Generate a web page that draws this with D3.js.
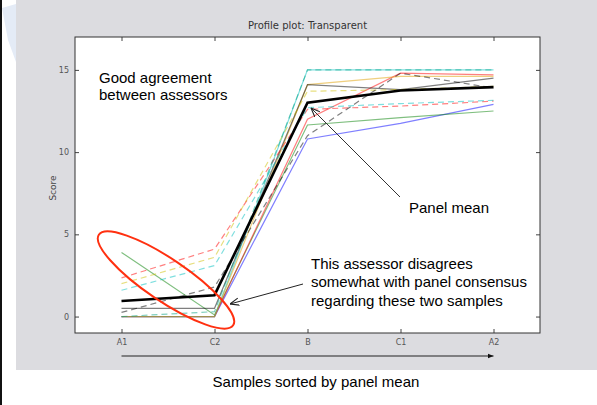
<!DOCTYPE html>
<html>
<head>
<meta charset="utf-8">
<script src="https://cdn.jsdelivr.net/npm/d3@7"></script>
<style>
  html, body { margin: 0; padding: 0; background: #ffffff; }
  svg { display: block; }
</style>
</head>
<body>
<svg id="chart" width="597" height="405"></svg>
<script>
// Samples in order of increasing panel mean
const samples = ["A1", "C2", "B", "C1", "A2"];
const yTicks = [0, 5, 10, 15];

// Individual assessor scores for attribute "Transparent" (A1, C2, B, C1, A2)
const assessorBlue    = [0.0, 0.0, 10.8, 11.75, 12.9];
const assessorGreen   = [3.9, 0.1, 11.65, 12.1, 12.5];
const assessorRed     = [0.0, 0.0, 12.0, 14.8, 14.7];
const assessorCyan    = [0.0, 0.0, 15.0, 15.0, 15.0];
const assessorYellow  = [0.0, 0.0, 14.1, 14.6, 14.6];
const assessorGrey    = [0.5, 0.5, 14.1, 13.8, 14.5];
const assessorRedD    = [2.35, 4.1, 12.6, 12.8, 13.1];
const assessorYellowD = [2.0, 3.6, 13.7, 13.8, 14.0];
const assessorCyanD   = [1.6, 3.1, 12.7, 12.95, 13.15];
const assessorGreyD   = [0.25, 1.8, 11.0, 14.8, 13.9];
const assessorGreenD  = [0.0, 0.3, 15.0, 15.0, 15.0];

// Panel mean
const panelMean = [0.95, 1.3, 13.0, 13.75, 13.95];

const assessors = [
  assessorBlue, assessorGreen, assessorRed, assessorCyan, assessorYellow, assessorGrey,
  assessorRedD, assessorYellowD, assessorCyanD, assessorGreyD, assessorGreenD
];
// Line styles, one per assessor
const lineStyles = [
  { color: "#0000ff", dash: null },
  { color: "#008000", dash: null },
  { color: "#ff0000", dash: null },
  { color: "#00bfbf", dash: null },
  { color: "#e0a000", dash: null },
  { color: "#000000", dash: null },
  { color: "#ff0000", dash: "6,4" },
  { color: "#d0c000", dash: "6,4" },
  { color: "#00bfbf", dash: "6,4" },
  { color: "#000000", dash: "6,4" },
  { color: "#00a080", dash: "6,4" }
];

const svg = d3.select("#chart");

// Slide background: white page, thin dark edge, faint logo mark, grey figure panel
svg.append("rect").attr("x", 0).attr("y", 0).attr("width", 597).attr("height", 405).attr("fill", "#ffffff");
svg.append("path").attr("d", "M2,8 L16,4 L16,62 L8,40 Z").attr("fill", "#e4ebf6");
svg.append("rect").attr("x", 16).attr("y", 0).attr("width", 581).attr("height", 370).attr("fill", "#dcdce0");
svg.append("rect").attr("x", 0).attr("y", 0).attr("width", 2).attr("height", 405).attr("fill", "#111");

const plot = { left: 75, right: 540, top: 37, bottom: 333 };

const x = d3.scalePoint().domain(samples).range([plot.left, plot.right]).padding(0.5);
const y = d3.scaleLinear().domain([-1, 17]).range([plot.bottom, plot.top]);

svg.append("rect")
  .attr("x", plot.left).attr("y", plot.top)
  .attr("width", plot.right - plot.left).attr("height", plot.bottom - plot.top)
  .attr("fill", "#ffffff");

// Title
svg.append("text")
  .attr("x", (plot.left + plot.right) / 2).attr("y", 29)
  .attr("text-anchor", "middle")
  .attr("font-family", "DejaVu Sans").attr("font-size", 10)
  .attr("fill", "#333")
  .text("Profile plot: Transparent");

// Profile lines
const line = d3.line().x((d, i) => x(samples[i])).y(d => y(d));
const g = svg.append("g");
assessors.forEach((vals, i) => {
  g.append("path")
    .datum(vals)
    .attr("d", line)
    .attr("fill", "none")
    .attr("stroke", lineStyles[i].color)
    .attr("stroke-opacity", 0.5)
    .attr("stroke-width", 1.2)
    .attr("stroke-dasharray", lineStyles[i].dash);
});
g.append("path")
  .datum(panelMean)
  .attr("d", line)
  .attr("fill", "none")
  .attr("stroke", "#000")
  .attr("stroke-width", 2.6);

// Axes with inward ticks on all four sides
function styleAxis(sel) {
  sel.select(".domain").remove();
  sel.selectAll(".tick line").attr("stroke", "#444");
  sel.selectAll(".tick text")
    .attr("font-family", "DejaVu Sans").attr("font-size", 8).attr("fill", "#555");
}
svg.append("g").attr("transform", `translate(${plot.left},0)`)
  .call(d3.axisLeft(y).tickValues(yTicks).tickSize(-4).tickPadding(6)).call(styleAxis);
svg.append("g").attr("transform", `translate(${plot.right},0)`)
  .call(d3.axisRight(y).tickValues(yTicks).tickSize(-4).tickFormat("")).call(styleAxis);
svg.append("g").attr("transform", `translate(0,${plot.bottom})`)
  .call(d3.axisBottom(x).tickSize(-4).tickPadding(6)).call(styleAxis);
svg.append("g").attr("transform", `translate(0,${plot.top})`)
  .call(d3.axisTop(x).tickSize(-4).tickFormat("")).call(styleAxis);

svg.append("rect")
  .attr("x", plot.left).attr("y", plot.top)
  .attr("width", plot.right - plot.left).attr("height", plot.bottom - plot.top)
  .attr("fill", "none").attr("stroke", "#333").attr("stroke-width", 1);

// Y axis label
svg.append("text")
  .attr("transform", "translate(56,188) rotate(-90)")
  .attr("text-anchor", "middle")
  .attr("font-family", "DejaVu Sans").attr("font-size", 9)
  .attr("fill", "#444")
  .text("Score");

// Arrow markers
const defs = svg.append("defs");
defs.append("marker").attr("id", "open").attr("viewBox", "0 0 10 10")
  .attr("refX", 10).attr("refY", 5).attr("markerWidth", 9).attr("markerHeight", 9)
  .attr("markerUnits", "userSpaceOnUse").attr("orient", "auto")
  .append("path").attr("d", "M0,1 L10,5 L0,9").attr("fill", "none").attr("stroke", "#222").attr("stroke-width", 1.2);
defs.append("marker").attr("id", "solid").attr("viewBox", "0 0 10 10")
  .attr("refX", 10).attr("refY", 5).attr("markerWidth", 6).attr("markerHeight", 6)
  .attr("markerUnits", "userSpaceOnUse").attr("orient", "auto")
  .append("path").attr("d", "M0,1 L10,5 L0,9 Z").attr("fill", "#111");

// Sort-order arrow under the axis
svg.append("line")
  .attr("x1", x(samples[0])).attr("y1", 356)
  .attr("x2", x(samples[samples.length - 1])).attr("y2", 356)
  .attr("stroke", "#222").attr("stroke-width", 1)
  .attr("marker-end", "url(#solid)");

svg.append("text")
  .attr("x", 316).attr("y", 387)
  .attr("text-anchor", "middle")
  .attr("font-family", "Liberation Sans, Arial, sans-serif").attr("font-size", 15)
  .attr("fill", "#000")
  .text("Samples sorted by panel mean");

// Annotations
function multiline(xp, yp, lines, lh) {
  const t = svg.append("text")
    .attr("font-family", "Liberation Sans, Arial, sans-serif").attr("font-size", 15)
    .attr("fill", "#000");
  lines.forEach((s, i) => t.append("tspan").attr("x", xp).attr("y", yp + i * lh).text(s));
}
multiline(99, 82.5, ["Good agreement", "between assessors"], 17.8);
multiline(409, 213, ["Panel mean"], 18);
multiline(311, 268.5, ["This assessor disagrees", "somewhat with panel consensus", "regarding these two samples"], 18.6);

svg.append("line")
  .attr("x1", 400).attr("y1", 197).attr("x2", 311).attr("y2", 108)
  .attr("stroke", "#333").attr("stroke-width", 1)
  .attr("marker-end", "url(#open)");
svg.append("line")
  .attr("x1", 303).attr("y1", 284).attr("x2", 230).attr("y2", 304)
  .attr("stroke", "#222").attr("stroke-width", 1)
  .attr("marker-end", "url(#open)");

// Highlight ring around the dissenting assessor
svg.append("ellipse")
  .attr("cx", 166).attr("cy", 280).attr("rx", 81).attr("ry", 21)
  .attr("transform", "rotate(34,166,280)")
  .attr("fill", "none").attr("stroke", "#ff3010").attr("stroke-width", 2);
</script>
</body>
</html>
